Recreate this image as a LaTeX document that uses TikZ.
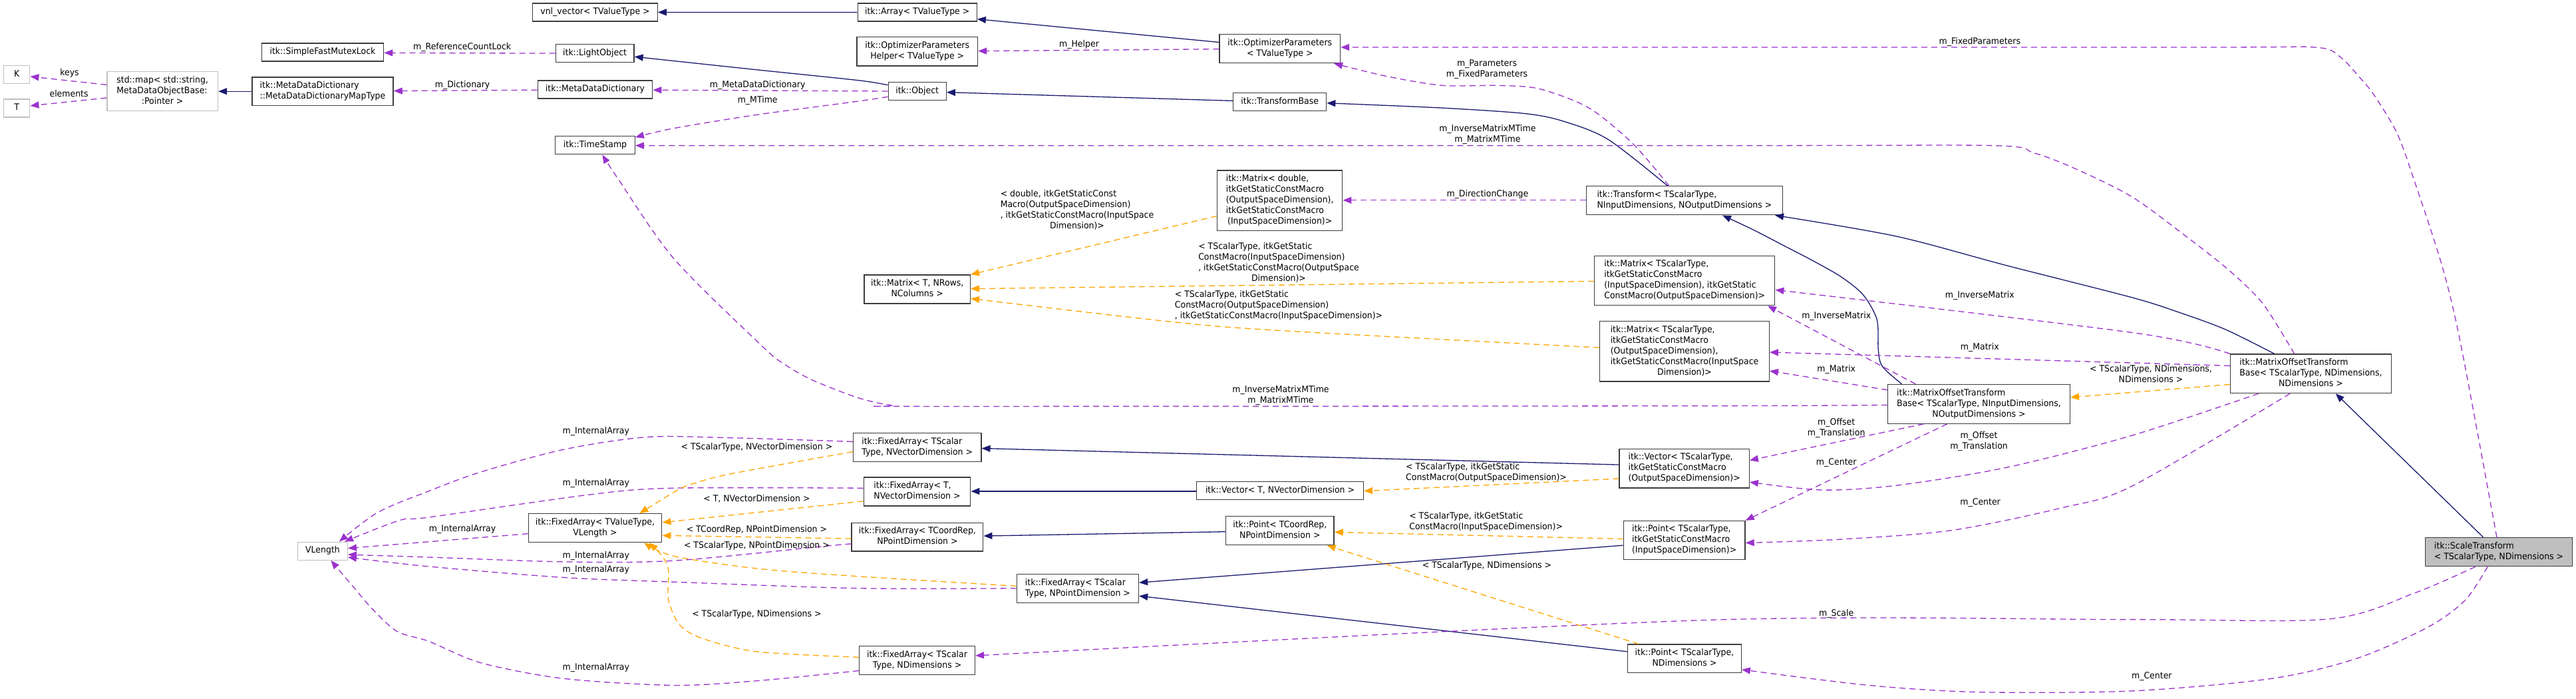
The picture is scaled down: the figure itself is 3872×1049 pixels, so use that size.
\documentclass[tikz,border=0pt]{standalone}
\usepackage{fontspec}
\setmainfont{DejaVu Sans}[FakeStretch=0.94]
\usetikzlibrary{arrows.meta}
\definecolor{navy}{HTML}{191970}
\definecolor{purp}{HTML}{9A32CD}
\definecolor{orng}{HTML}{FFA500}
\definecolor{boxc}{HTML}{3C3C3C}
\definecolor{grayc}{HTML}{BFBFBF}
\newcommand{\ctab}[1]{\begin{tabular}{@{}c@{}}#1\end{tabular}}
\newcommand{\ltab}[2]{\begin{tabular}{@{}l@{}}#1\\\multicolumn{1}{@{}c@{}}{#2}\end{tabular}}
\begin{document}
\begin{tikzpicture}[x=1pt,y=-1pt,
  every node/.style={font=\fontsize{13.3}{16}\selectfont, inner sep=0pt, execute at begin node=\strut},
  box/.style={draw=boxc, line width=1.3pt, fill=white},
  gbox/.style={box, draw=grayc},
  inh/.style={draw=navy, line width=1.3pt, -{Triangle[length=13pt,width=10pt]}},
  use/.style={draw=purp, line width=1.3pt, dash pattern=on 9pt off 6pt, -{Triangle[length=13pt,width=10pt]}},
  tpl/.style={use, draw=orng}]
\fill[white] (0,0) rectangle (3872,1049);
\useasboundingbox (0,0) rectangle (3872,1049);
% ---------------- nodes
\node[gbox, minimum width=39.4, minimum height=26.7] (K) at (25.1,112) {K};
\node[gbox, minimum width=39.4, minimum height=27] (T) at (25.1,162.5) {T};
\node[gbox, minimum width=166.7, minimum height=58.8] (stdmap) at (244.2,137.2) {\ltab{std::map< std::string,\\MetaDataObjectBase:}{:Pointer >}};
\node[box, minimum width=183.2, minimum height=27] (mutex) at (485,78.4) {itk::SimpleFastMutexLock};
\node[box, minimum width=212.2, minimum height=42.6] (maptype) at (485,137.2) {\ltab{itk::MetaDataDictionary}{::MetaDataDictionaryMapType}};
\node[box, minimum width=187.4, minimum height=27] (vnl) at (894.5,18.4) {vnl\_vector< TValueType >};
\node[box, minimum width=117.8, minimum height=27] (lightobj) at (894.1,79.8) {itk::LightObject};
\node[box, minimum width=172.5, minimum height=27] (mdd) at (894.5,134.5) {itk::MetaDataDictionary};
\node[box, minimum width=119.4, minimum height=27] (timestamp) at (894.5,218.3) {itk::TimeStamp};
\node[box, minimum width=179.1, minimum height=27] (array) at (1378.7,18.6) {itk::Array< TValueType >};
\node[box, minimum width=181.5, minimum height=43.2] (ophelper) at (1378.7,77.4) {\ltab{itk::OptimizerParameters}{Helper< TValueType >}};
\node[box, minimum width=87.1, minimum height=27] (object) at (1378.7,137.2) {itk::Object};
\node[box, minimum width=159.2, minimum height=43] (matT) at (1378.7,434.5) {\ltab{itk::Matrix< T, NRows,}{NColumns >}};
\node[box, minimum width=181.5, minimum height=43] (optparams) at (1923.8,73.2) {\ltab{itk::OptimizerParameters}{< TValueType >}};
\node[box, minimum width=140, minimum height=27] (transformbase) at (1923.7,153.1) {itk::TransformBase};
\node[box, minimum width=188, minimum height=90.6] (matdouble) at (1923.7,301.2) {\ltab{itk::Matrix< double,\\itkGetStaticConstMacro\\(OutputSpaceDimension),\\itkGetStaticConstMacro}{(InputSpaceDimension)>}};
\node[box, minimum width=295, minimum height=43] (transform) at (2531.9,301.3) {\ltab{itk::Transform< TScalarType,}{NInputDimensions, NOutputDimensions >}};
\node[box, minimum width=271, minimum height=74.4] (matIO) at (2532.2,421.5) {\ltab{itk::Matrix< TScalarType,\\itkGetStaticConstMacro\\(InputSpaceDimension), itkGetStatic}{ConstMacro(OutputSpaceDimension)>}};
\node[box, minimum width=254.5, minimum height=90.3] (matOI) at (2532,527.8) {\ltab{itk::Matrix< TScalarType,\\itkGetStaticConstMacro\\(OutputSpaceDimension),\\itkGetStaticConstMacro(InputSpace}{Dimension)>}};
\node[box, minimum width=273.6, minimum height=58.7] (motbIO) at (2974.5,606.8) {\ltab{itk::MatrixOffsetTransform\\Base< TScalarType, NInputDimensions,}{NOutputDimensions >}};
\node[box, minimum width=241.7, minimum height=58.4] (motbN) at (3473.4,561.3) {\ltab{itk::MatrixOffsetTransform\\Base< TScalarType, NDimensions,}{NDimensions >}};
\node[box, fill=grayc, minimum width=220.7, minimum height=42.8] (scale) at (3756,829.2) {\ltab{itk::ScaleTransform}{< TScalarType, NDimensions >}};
\node[box, minimum width=195.2, minimum height=58.4] (vecOut) at (2531.6,703.7) {\ltab{itk::Vector< TScalarType,\\itkGetStaticConstMacro}{(OutputSpaceDimension)>}};
\node[box, minimum width=182.8, minimum height=58.3] (pointIn) at (2531.6,811.6) {\ltab{itk::Point< TScalarType,\\itkGetStaticConstMacro}{(InputSpaceDimension)>}};
\node[box, minimum width=170.7, minimum height=42.2] (pointNDim) at (2531.9,989.1) {\ltab{itk::Point< TScalarType,}{NDimensions >}};
\node[box, minimum width=192.3, minimum height=42.8] (faSV) at (1378.7,672) {\ltab{itk::FixedArray< TScalar}{Type, NVectorDimension >}};
\node[box, minimum width=160.5, minimum height=42.9] (faTV) at (1378.5,738.4) {\ltab{itk::FixedArray< T,}{NVectorDimension >}};
\node[box, minimum width=197.7, minimum height=42.8] (faCP) at (1378.9,806.6) {\ltab{itk::FixedArray< TCoordRep,}{NPointDimension >}};
\node[box, minimum width=183.2, minimum height=42.5] (faSP) at (1619.9,884) {\ltab{itk::FixedArray< TScalar}{Type, NPointDimension >}};
\node[box, minimum width=173.7, minimum height=42.5] (faSD) at (1378.5,992) {\ltab{itk::FixedArray< TScalar}{Type, NDimensions >}};
\node[box, minimum width=250.7, minimum height=27] (vecT) at (1924,737.3) {itk::Vector< T, NVectorDimension >};
\node[box, minimum width=162.5, minimum height=42.9] (ptCP) at (1923.8,797.2) {\ltab{itk::Point< TCoordRep,}{NPointDimension >}};
\node[box, minimum width=200.6, minimum height=42.8] (faVL) at (894.5,793.1) {\ltab{itk::FixedArray< TValueType,}{VLength >}};
\node[gbox, minimum width=74.6, minimum height=27] (VLength) at (485,827.7) {VLength};
% ---------------- inheritance
\draw[inh] (maptype.west) -- (stdmap.east);
\draw[inh] (array.west) -- (vnl.east);
\draw[inh] (optparams.west |- 0,63.5) -- (array.east |- 0,28.7);
\draw[inh] plot[smooth] coordinates {(object.west |- 0,127.8) (1290,120.7) (1137.4,104.8) (lightobj.east |- 0,85.2)};
\draw[inh] (transformbase.west |- 0,151.4) -- (object.east |- 0,138.6);
\draw[inh] plot[smooth] coordinates {(transform.north -| 2506.5,0) (2417.4,209.6) (2351.1,182.5) (2293,170.7) (2168.7,162.2) (transformbase.east |- 0,154.8)};
\draw[inh] plot[smooth] coordinates {(motbIO.north -| 2858.5,0) (2829.4,550.4) (2823.2,525) (2821.2,480) (2800.4,442.8) (2767.3,415.8) (2725.8,392.1) (2680.2,368.4) (2634.6,344.8) (transform.south -| 2589,0)};
\draw[inh] plot[smooth] coordinates {(motbN.north -| 3418.6,0) (3345.7,495.2) (3277,469.8) (3205,447) (3016,398.8) (2850,354.9) (transform.south -| 2668,0)};
\draw[inh] (scale.north -| 3732.7,0) -- (motbN.south -| 3510.7,0);
\draw[inh] (vecOut.west |- 0,698.1) -- (faSV.east |- 0,673.5);
\draw[inh] (vecT.west |- 0,738) -- (faTV.east |- 0,738);
\draw[inh] (ptCP.west |- 0,798.7) -- (faCP.east |- 0,805.1);
\draw[inh] (pointIn.west |- 0,819.2) -- (faSP.east |- 0,875.2);
\draw[inh] (pointNDim.west |- 0,978.8) -- (faSP.east |- 0,895.2);
% ---------------- usage
\draw[use] (stdmap.west |- 0,127.4) -- (K.east |- 0,114.9);
\draw[use] (stdmap.west |- 0,147) -- (T.east |- 0,158.9);
\draw[use] (mdd.west |- 0,135.2) -- (maptype.east |- 0,136.6);
\draw[use] (lightobj.west |- 0,80.1) -- (mutex.east |- 0,79.4);
\draw[use] (object.west |- 0,137) -- (mdd.east |- 0,135.2);
\draw[use] plot[smooth] coordinates {(object.west |- 0,145.3) (1290,152.1) (1137.4,172.4) (1013,192.7) (timestamp.east |- 0,206.2)};
\draw[use] (optparams.west |- 0,73.7) -- (ophelper.east |- 0,76.7);
\draw[use] plot[smooth] coordinates {(transform.north -| 2508.6,0) (2454.8,216.3) (2388.4,162.2) (2313.8,133.5) (2251.6,128.4) (2168.7,128.4) (2085.8,114.9) (optparams.south -| 2005,0)};
\draw[use] (transform.west |- 0,300.8) -- (matdouble.east |- 0,300.8);
\draw[use] plot[smooth] coordinates {(motbN.north -| 3448.6,0) (3401.4,456.3) (3350,405.6) (3285.7,354.9) (3205,296) (3119.6,253.5) (3057.4,229.8) (2995.3,218.7) (2600,218.7) (timestamp.east |- 0,218.7)};
\draw[use] plot[smooth] coordinates {(motbIO.west |- 0,608.4) (2560,609.7) (1400,610.4) (1342.2,609) (1290,597.6) (1220.4,570.6) (1178.9,547) (1145.7,520) (1013,388.7) (930.2,270.4) (timestamp.south -| 905.3,0)};
\draw[use] plot[smooth] coordinates {(motbN.north west) (3210,500.3) (matIO.east |- 0,435.4)};
\draw[use] (motbN.west |- 0,549.4) -- (matOI.east |- 0,529.1);
\draw[use] (motbIO.north -| 2879.2,0) -- (matIO.south -| 2657,0);
\draw[use] (motbIO.west |- 0,585.8) -- (matOI.east |- 0,557.1);
\draw[use] (motbIO.south -| 2891.6,0) -- (vecOut.east |- 0,691.4);
\draw[use] (motbIO.south -| 2926.8,0) -- (pointIn.north east);
\draw[use] plot[smooth] coordinates {(motbN.south -| 3395,0) (3205,654) (3016,702.2) (2850.2,729.2) (2738,736) (vecOut.east |- 0,724.1)};
\draw[use] plot[smooth] coordinates {(motbN.south -| 3442.1,0) (3205,730) (3098.9,762.9) (2933,796.7) (2767.3,810.1) (pointIn.east |- 0,815.5)};
\draw[use] plot[smooth] coordinates {(scale.north -| 3752.9,0) (3699.3,520) (3671.4,402) (3628.6,270.4) (3602.9,200) (3568.6,143) (3547,116.6) (3517,85.2) (3478.6,71) (3300,71) (optparams.east |- 0,71)};
\draw[use] plot[smooth] coordinates {(scale.south -| 3720.7,0) (3628.6,891.1) (3500,929.9) (3200,930.6) (2560,931.6) (faSD.east |- 0,984.9)};
\draw[use] plot[smooth] coordinates {(scale.south -| 3739.1,0) (3705.7,901.2) (3650,941.7) (3542.9,988.9) (3414.3,1019.3) (3205,1037.9) (2974.5,1039.6) (2808.7,1029.4) (pointNDim.east |- 0,1005.8)};
% m_InternalArray
\draw[use] plot[smooth] coordinates {(faSV.west |- 0,663.4) (1096,657.6) (971.6,656.6) (847.3,675.2) (722.9,708.9) (645,737.5) (567.9,769.7) (VLength.north -| 509.9,0)};
\draw[use] plot[smooth] coordinates {(faTV.west |- 0,733.2) (1013,733.2) (888.7,742.7) (645,777) (601,781.5) (VLength.north -| 518,0)};
\draw[use] (faVL.west |- 0,801.7) -- (VLength.east |- 0,823.6);
\draw[use] plot[smooth] coordinates {(faCP.west |- 0,816.9) (1241,820.3) (1013,842.2) (847.3,843.9) (645,837) (VLength.east |- 0,833.1)};
\draw[use] plot[smooth] coordinates {(faSP.west |- 0,883.7) (1290,883.7) (1013,874.2) (847.3,867.5) (645,851) (VLength.east |- 0,837.1)};
\draw[use] plot[smooth] coordinates {(faSD.west |- 0,1007.5) (1137.4,1022.7) (1013,1029.4) (847.3,1019.3) (722.9,995.7) (645,963.5) (597,948.5) (559.6,914.7) (530.6,881) (VLength.south -| 497.4,0)};
% ---------------- template
\draw[tpl] (matdouble.west |- 0,324.5) -- (matT.north east);
\draw[tpl] (matIO.west |- 0,422.5) -- (matT.east |- 0,433.7);
\draw[tpl] plot[smooth] coordinates {(matOI.west |- 0,522.2) (1930,496.9) (1760.9,483.4) (matT.east |- 0,448.5)};
\draw[tpl] (vecOut.west |- 0,719) -- (vecT.east |- 0,737.6);
\draw[tpl] (pointIn.west |- 0,809.5) -- (ptCP.east |- 0,799.3);
\draw[tpl] (pointNDim.north -| 2463,0) -- (ptCP.south -| 1994.6,0);
\draw[tpl] (motbN.west |- 0,577.4) -- (motbIO.east |- 0,596.9);
\draw[tpl] plot[smooth] coordinates {(faSV.west |- 0,678.6) (1096,712.3) (1033.8,729.2) (1013,739.3) (996.5,749.4) (faVL.north -| 961.3,0)};
\draw[tpl] (faTV.west |- 0,752.8) -- (faVL.east |- 0,784.8);
\draw[tpl] (faCP.west |- 0,809.1) -- (faVL.east |- 0,804.4);
\draw[tpl] plot[smooth] coordinates {(faSP.west |- 0,880.3) (1290,865.8) (1137.4,854) (1013,835.4) (faVL.south -| 968,0)};
\draw[tpl] plot[smooth] coordinates {(faSD.west |- 0,987.3) (1137.4,978.8) (1054.5,958.6) (1021.4,938.3) (1004.8,901.2) (1004.8,857.4) (996.5,837.1) (faVL.south -| 976,0)};
% ---------------- labels
\node (l1) at (104.5,110.5) {keys};
\node (l2) at (103.6,142.3) {elements};
\node (l3) at (694.7,71.5) {m\_ReferenceCountLock};
\node (l4) at (695.1,127.8) {m\_Dictionary};
\node (l5) at (1138.7,127.8) {m\_MetaDataDictionary};
\node (l6) at (1138.7,150.8) {m\_MTime};
\node (l7) at (1622,67.6) {m\_Helper};
\node (l8) at (2235,104.8) {\ctab{m\_Parameters\\m\_FixedParameters}};
\node (l9) at (2235.9,202.5) {\ctab{m\_InverseMatrixMTime\\m\_MatrixMTime}};
\node (l10) at (2235.9,292.7) {m\_DirectionChange};
\node (l11) at (2975.8,62.9) {m\_FixedParameters};
\node (l12) at (1619,316.4) {\ltab{< double, itkGetStaticConst\\Macro(OutputSpaceDimension)\\, itkGetStaticConstMacro(InputSpace}{Dimension)>}};
\node (l13) at (1922,395.3) {\ltab{< TScalarType, itkGetStatic\\ConstMacro(InputSpaceDimension)\\, itkGetStaticConstMacro(OutputSpace}{Dimension)>}};
\node (l14) at (1922,459.4) {\ltab{< TScalarType, itkGetStatic\\ConstMacro(OutputSpaceDimension)}{, itkGetStaticConstMacro(InputSpaceDimension)>}};
\node (l15) at (2975.8,444.5) {m\_InverseMatrix};
\node (l16) at (2760.2,475.6) {m\_InverseMatrix};
\node (l17) at (2975.8,522.2) {m\_Matrix};
\node (l18) at (2760.2,555.4) {m\_Matrix};
\node (l19) at (3233,563.5) {\ltab{< TScalarType, NDimensions,}{NDimensions >}};
\node (l20) at (1925,594.6) {\ctab{m\_InverseMatrixMTime\\m\_MatrixMTime}};
\node (l21) at (2760.2,643.7) {\ctab{m\_Offset\\m\_Translation}};
\node (l22) at (2974.5,663.7) {\ctab{m\_Offset\\m\_Translation}};
\node (l23) at (2760.2,694.8) {m\_Center};
\node (l24) at (2976.6,755.5) {m\_Center};
\node (l25) at (2234,710.3) {\ltab{< TScalarType, itkGetStatic}{ConstMacro(OutputSpaceDimension)>}};
\node (l26) at (2233.6,784.4) {\ltab{< TScalarType, itkGetStatic}{ConstMacro(InputSpaceDimension)>}};
\node (l27) at (2235,850.6) {< TScalarType, NDimensions >};
\node (l28) at (2760.2,922.5) {m\_Scale};
\node (l29) at (3234.3,1016.6) {m\_Center};
\node (l30) at (895.8,648.5) {m\_InternalArray};
\node (l31) at (1137.4,672.5) {< TScalarType, NVectorDimension >};
\node (l32) at (895.8,726.5) {m\_InternalArray};
\node (l33) at (1137.4,750.4) {< T, NVectorDimension >};
\node (l34) at (695.1,795.6) {m\_InternalArray};
\node (l35) at (1137.4,796.6) {< TCoordRep, NPointDimension >};
\node (l36) at (1137.4,820.3) {< TScalarType, NPointDimension >};
\node (l37) at (895.8,834.8) {m\_InternalArray};
\node (l38) at (895.8,856.7) {m\_InternalArray};
\node (l39) at (1137.4,923.5) {< TScalarType, NDimensions >};
\node (l40) at (895.8,1002.8) {m\_InternalArray};
\end{tikzpicture}
\end{document}
